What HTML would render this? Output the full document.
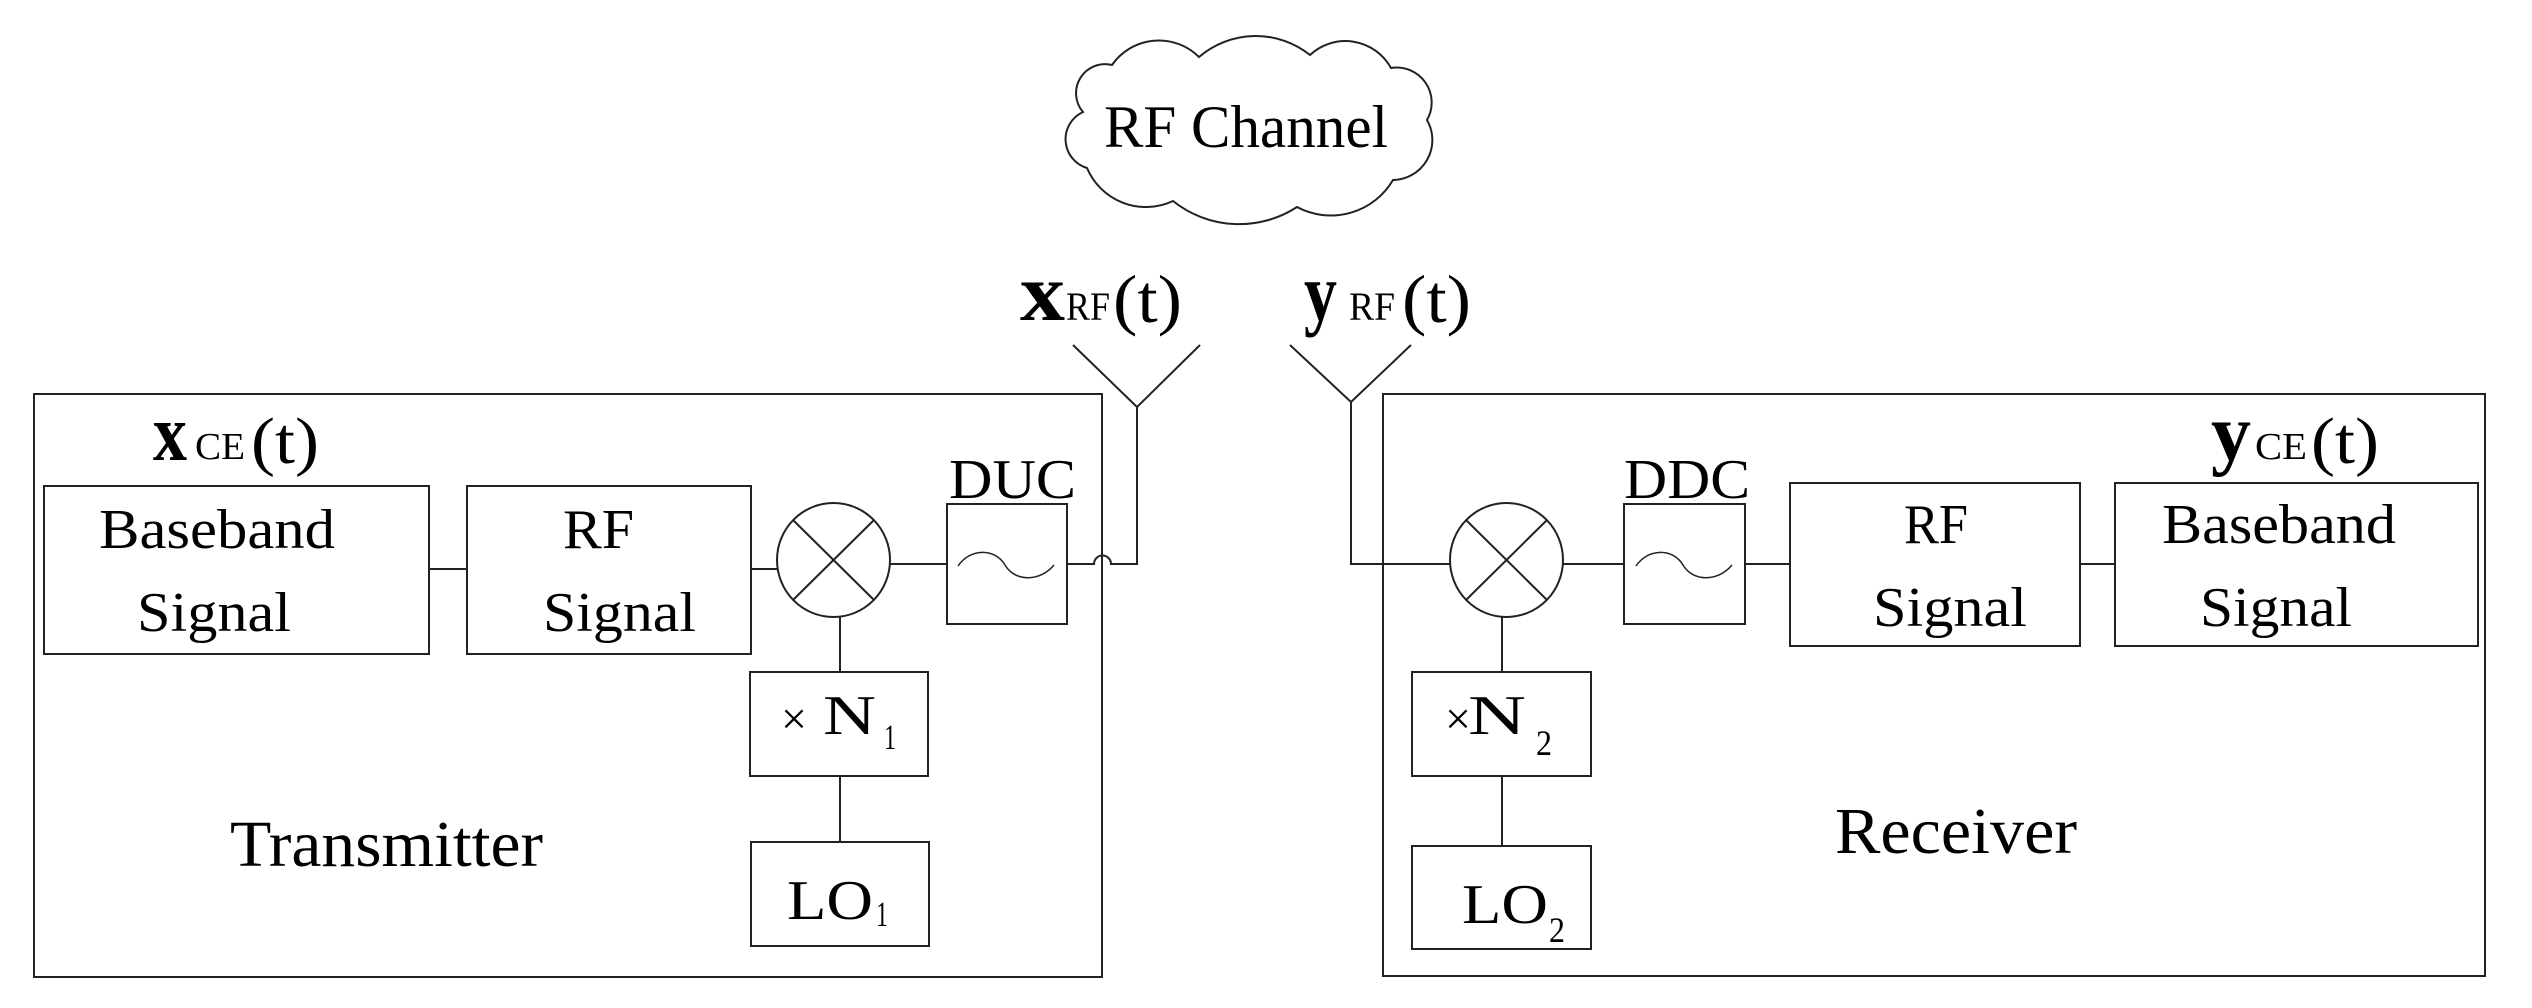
<!DOCTYPE html>
<html><head><meta charset="utf-8"><style>
html,body{margin:0;padding:0;background:#fff;}
svg{display:block;}
text{font-family:"Liberation Serif",serif;fill:#000;}
</style></head><body>
<svg width="2532" height="1008" viewBox="0 0 2532 1008" xmlns="http://www.w3.org/2000/svg">
<g fill="none" stroke="#222" stroke-width="2">
<!-- cloud -->
<path d="M1112,65 A57,57 0 0 1 1199,57 A87,87 0 0 1 1310,55 A52,52 0 0 1 1391,68 A35,35 0 0 1 1427,120 A40,40 0 0 1 1393,180 A72,72 0 0 1 1297,207 A106,106 0 0 1 1173,201 A64,64 0 0 1 1087,168 A30,30 0 0 1 1083,112 A29,29 0 0 1 1112,65 Z"/>
<!-- transmitter -->
<rect x="34" y="394" width="1068" height="583"/>
<rect x="44" y="486" width="385" height="168"/>
<rect x="467" y="486" width="284" height="168"/>
<line x1="429" y1="569" x2="467" y2="569"/>
<line x1="751" y1="569" x2="777" y2="569"/>
<ellipse cx="833.5" cy="560" rx="56.5" ry="57"/>
<line x1="793" y1="520" x2="874" y2="600"/>
<line x1="874" y1="520" x2="793" y2="600"/>
<line x1="890" y1="564" x2="947" y2="564"/>
<rect x="947" y="504" width="120" height="120"/>
<path d="M958,566 C970,548 995,548 1005,565 S1040,582 1054,565" stroke-width="1.5"/>
<path d="M1067,564 L1094,564 A8.5,8.5 0 0 1 1111,564 L1137,564 L1137,407"/>
<line x1="1137" y1="407" x2="1073" y2="345"/>
<line x1="1137" y1="407" x2="1200" y2="345"/>
<line x1="840" y1="617" x2="840" y2="672"/>
<rect x="750" y="672" width="178" height="104"/>
<line x1="840" y1="776" x2="840" y2="842"/>
<rect x="751" y="842" width="178" height="104"/>
<!-- receiver -->
<rect x="1383" y="394" width="1102" height="582"/>
<line x1="1351" y1="402" x2="1290" y2="345"/>
<line x1="1351" y1="402" x2="1411" y2="345"/>
<path d="M1351,402 L1351,564 L1450,564"/>
<ellipse cx="1506.5" cy="560" rx="56.5" ry="57"/>
<line x1="1466" y1="520" x2="1547" y2="600"/>
<line x1="1547" y1="520" x2="1466" y2="600"/>
<line x1="1563" y1="564" x2="1624" y2="564"/>
<rect x="1624" y="504" width="121" height="120"/>
<path d="M1636,566 C1648,548 1673,548 1683,565 S1718,582 1732,565" stroke-width="1.5"/>
<line x1="1745" y1="564" x2="1790" y2="564"/>
<rect x="1790" y="483" width="290" height="163"/>
<line x1="2080" y1="564" x2="2115" y2="564"/>
<rect x="2115" y="483" width="363" height="163"/>
<line x1="1502" y1="617" x2="1502" y2="672"/>
<rect x="1412" y="672" width="179" height="104"/>
<line x1="1502" y1="776" x2="1502" y2="846"/>
<rect x="1412" y="846" width="179" height="103"/>
</g>
<g>
<text x="1104" y="147" font-size="60" textLength="284" lengthAdjust="spacingAndGlyphs">RF Channel</text>
<text x="1020" y="320" font-size="82" font-weight="bold" textLength="45" lengthAdjust="spacingAndGlyphs">x</text>
<text x="1066" y="320" font-size="40" textLength="44" lengthAdjust="spacingAndGlyphs">RF</text>
<text x="1113" y="322" font-size="68" textLength="69" lengthAdjust="spacingAndGlyphs">(t)</text>
<text x="1304" y="320" font-size="82" font-weight="bold" textLength="33" lengthAdjust="spacingAndGlyphs">y</text>
<text x="1349" y="320" font-size="40" textLength="46" lengthAdjust="spacingAndGlyphs">RF</text>
<text x="1402" y="322" font-size="68" textLength="69" lengthAdjust="spacingAndGlyphs">(t)</text>
<text x="153" y="460" font-size="80" font-weight="bold" textLength="34" lengthAdjust="spacingAndGlyphs">x</text>
<text x="195" y="459" font-size="38" textLength="50" lengthAdjust="spacingAndGlyphs">CE</text>
<text x="251" y="463" font-size="66" textLength="68" lengthAdjust="spacingAndGlyphs">(t)</text>
<text x="2211" y="460" font-size="80" font-weight="bold" textLength="40" lengthAdjust="spacingAndGlyphs">y</text>
<text x="2255" y="459" font-size="38" textLength="52" lengthAdjust="spacingAndGlyphs">CE</text>
<text x="2311" y="463" font-size="66" textLength="68" lengthAdjust="spacingAndGlyphs">(t)</text>

<text x="99" y="548" font-size="56" textLength="236" lengthAdjust="spacingAndGlyphs">Baseband</text>
<text x="137" y="631" font-size="56" textLength="154" lengthAdjust="spacingAndGlyphs">Signal</text>
<text x="563" y="548" font-size="56" textLength="71" lengthAdjust="spacingAndGlyphs">RF</text>
<text x="543" y="631" font-size="56" textLength="153" lengthAdjust="spacingAndGlyphs">Signal</text>
<text x="949" y="498" font-size="56" textLength="127" lengthAdjust="spacingAndGlyphs">DUC</text>
<text x="781" y="734" font-size="46">×</text>
<text x="823" y="734" font-size="56" textLength="53" lengthAdjust="spacingAndGlyphs">N</text>
<text x="884" y="749" font-size="36" textLength="12" lengthAdjust="spacingAndGlyphs">1</text>
<text x="787" y="919" font-size="56" textLength="86" lengthAdjust="spacingAndGlyphs">LO</text>
<text x="876" y="926" font-size="36" textLength="12" lengthAdjust="spacingAndGlyphs">1</text>
<text x="230" y="866" font-size="66" textLength="313" lengthAdjust="spacingAndGlyphs">Transmitter</text>

<text x="1624" y="498" font-size="56" textLength="126" lengthAdjust="spacingAndGlyphs">DDC</text>
<text x="1904" y="543" font-size="56" textLength="64" lengthAdjust="spacingAndGlyphs">RF</text>
<text x="1873" y="626" font-size="56" textLength="154" lengthAdjust="spacingAndGlyphs">Signal</text>
<text x="2162" y="543" font-size="56" textLength="234" lengthAdjust="spacingAndGlyphs">Baseband</text>
<text x="2200" y="626" font-size="56" textLength="152" lengthAdjust="spacingAndGlyphs">Signal</text>
<text x="1445" y="734" font-size="46">×</text>
<text x="1468" y="734" font-size="56" textLength="58" lengthAdjust="spacingAndGlyphs">N</text>
<text x="1536" y="755" font-size="36" textLength="16" lengthAdjust="spacingAndGlyphs">2</text>
<text x="1462" y="923" font-size="56" textLength="86" lengthAdjust="spacingAndGlyphs">LO</text>
<text x="1549" y="942" font-size="36" textLength="16" lengthAdjust="spacingAndGlyphs">2</text>
<text x="1835" y="853" font-size="66" textLength="242" lengthAdjust="spacingAndGlyphs">Receiver</text>
</g>
</svg>
</body></html>
